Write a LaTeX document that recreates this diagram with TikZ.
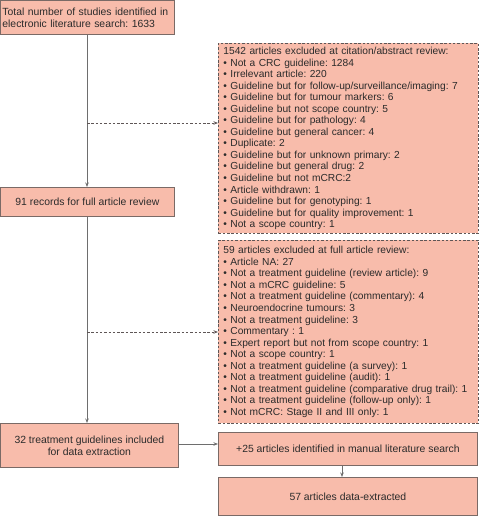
\documentclass[tikz,border=0pt]{standalone}
\usepackage{fontspec}
\setmainfont{Liberation Sans}
\usetikzlibrary{arrows.meta}
\definecolor{boxfill}{HTML}{F8BCAB}
\definecolor{boxline}{HTML}{7A6A66}
\definecolor{dashline}{HTML}{5E5656}
\definecolor{txt}{HTML}{2B2B2B}
\definecolor{conn}{HTML}{6E6E6E}
\tikzset{
  solidbox/.style={draw=boxline, fill=boxfill, line width=0.8pt, anchor=north west,
    text=txt, font=\fontsize{10.4}{12}\selectfont, inner xsep=0pt, inner ysep=0pt},
  dashbox/.style={draw=dashline, fill=boxfill, line width=0.9pt, dash pattern=on 2.5pt off 1.8pt,
    anchor=north west, text=txt, font=\fontsize{10.2}{11.55}\selectfont, align=left,
    inner xsep=5pt, inner ysep=0pt},
  arr/.style={draw=conn, line width=0.8pt, -{Stealth[length=4.5pt,width=3.5pt]}},
  darr/.style={draw=dashline, line width=0.8pt, dash pattern=on 2.5pt off 1.8pt, -{Stealth[length=4.5pt,width=3.5pt]}},
}
\newcommand{\bl}{\textbullet\ }
\begin{document}
\frenchspacing
\begin{tikzpicture}[x=1pt,y=-1pt]
\useasboundingbox (0,0) rectangle (480,517);
% left column
\node[solidbox, minimum width=174pt, minimum height=34pt, align=left, text width=170pt, inner xsep=2pt] (total) at (0,0)
  {Total number of studies identified in\\electronic literature search: 1633};
\node[solidbox, minimum width=174pt, minimum height=29pt, align=center] (rec) at (0,187)
  {91 records for full article review};
\node[solidbox, minimum width=178pt, minimum height=44pt, align=center] (incl) at (0,423)
  {32 treatment guidelines included\\for data extraction};
% right column
\node[dashbox, minimum width=260pt, minimum height=190pt, text width=250pt] (ex1) at (218,43)
  {1542 articles excluded at citation/abstract review:\\
  \bl Not a CRC guideline: 1284\\
  \bl Irrelevant article: 220\\
  \bl Guideline but for follow-up/surveillance/imaging: 7\\
  \bl Guideline but for tumour markers: 6\\
  \bl Guideline but not scope country: 5\\
  \bl Guideline but for pathology: 4\\
  \bl Guideline but general cancer: 4\\
  \bl Duplicate: 2\\
  \bl Guideline but for unknown primary: 2\\
  \bl Guideline but general drug: 2\\
  \bl Guideline but not mCRC:2\\
  \bl Article withdrawn: 1\\
  \bl Guideline but for genotyping: 1\\
  \bl Guideline but for quality improvement: 1\\
  \bl Not a scope country: 1};
\node[dashbox, minimum width=260pt, minimum height=183pt, text width=250pt] (ex2) at (218,240)
  {59 articles excluded at full article review:\\
  \bl Article NA: 27\\
  \bl Not a treatment guideline (review article): 9\\
  \bl Not a mCRC guideline: 5\\
  \bl Not a treatment guideline (commentary): 4\\
  \bl Neuroendocrine tumours: 3\\
  \bl Not a treatment guideline: 3\\
  \bl Commentary : 1\\
  \bl Expert report but not from scope country: 1\\
  \bl Not a scope country: 1\\
  \bl Not a treatment guideline (a survey): 1\\
  \bl Not a treatment guideline (audit): 1\\
  \bl Not a treatment guideline (comparative drug trail): 1\\
  \bl Not a treatment guideline (follow-up only): 1\\
  \bl Not mCRC: Stage II and III only: 1};
\node[solidbox, minimum width=259pt, minimum height=33pt, align=center] (manual) at (218,432)
  {+25 articles identified in manual literature search};
\node[solidbox, minimum width=259pt, minimum height=38pt, align=center] (final) at (218,477)
  {57 articles data-extracted};
% connectors
\coordinate (d1) at (87,123);
\coordinate (d2) at (87,332);
\draw[arr] (total.south -| 87,0) -- (rec.north -| 87,0);
\draw[arr] (rec.south -| 87,0) -- (incl.north -| 87,0);
\draw[darr] (d1) -- (d1 -| ex1.west);
\draw[darr] (d2) -- (d2 -| ex2.west);
\draw[arr] (incl.east |- 0,444) -- (manual.west |- 0,444);
\draw[arr] (manual.south -| 342,0) -- (final.north -| 342,0);
\end{tikzpicture}
\end{document}
